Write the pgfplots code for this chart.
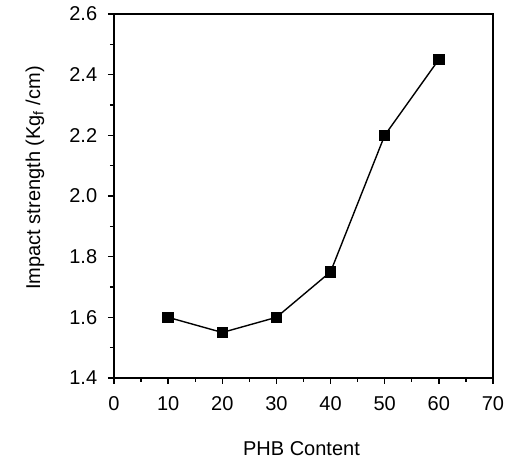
\documentclass[border=0pt]{standalone}
\usepackage{pgfplots}
\pgfplotsset{compat=1.18}
\usepackage{fontspec}
\setmainfont{Liberation Sans}
\begin{document}
\fontsize{20}{23}\selectfont
\begin{tikzpicture}
\useasboundingbox (-114pt,-84pt) rectangle (401pt,378pt);
\begin{axis}[
  at={(0pt,0pt)}, anchor=south west,
  scale only axis,
  width=379pt, height=364pt,
  xmin=0, xmax=70, ymin=1.4, ymax=2.6,
  xtick={0,10,...,70},
  ytick={1.4,1.6,...,2.6},
  minor x tick num=1,
  minor y tick num=1,
  tick align=outside,
  xtick pos=left, ytick pos=left,
  major tick length=6pt, minor tick length=4pt,
  axis line style={line width=1.3pt},
  tick style={line width=1.3pt, black},
  /pgf/number format/assume math mode=true,
  tick label style={font=\fontsize{20}{23}\selectfont},
  yticklabel style={/pgf/number format/fixed, /pgf/number format/fixed zerofill, /pgf/number format/precision=1, xshift=-4pt},
  xticklabel style={yshift=-6pt},
  xlabel={PHB Content},
  ylabel={Impact strength (Kg$_\mathrm{f}$ /cm)},
  every axis x label/.style={at={(axis description cs:0.5,0)}, xshift=-2pt, yshift=-71pt, anchor=center},
  every axis y label/.style={at={(axis description cs:0,0.5)}, xshift=-79pt, yshift=18pt, rotate=90, anchor=center},
  label style={font=\fontsize{20}{23}\selectfont},
]
\addplot[black, line width=1.4pt, mark=square*, mark size=5pt] coordinates {
  (10,1.60) (20,1.55) (30,1.60) (40,1.75) (50,2.20) (60,2.45)
};
\end{axis}
\end{tikzpicture}
\end{document}
